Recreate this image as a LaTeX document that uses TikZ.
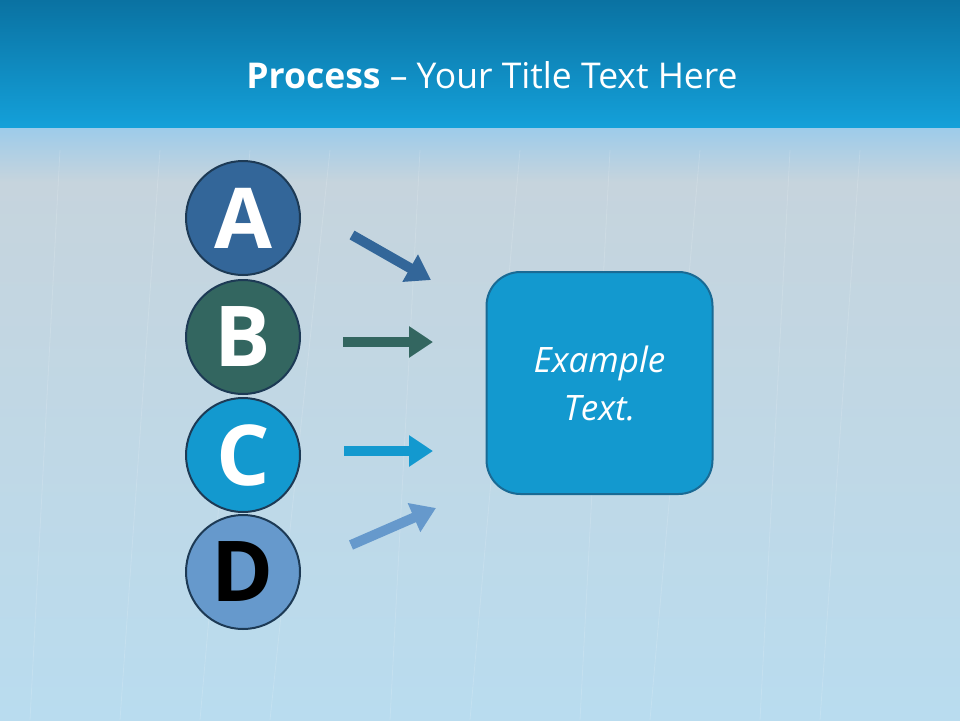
\documentclass[tikz,border=0pt]{standalone}
\usepackage{fontspec}
\setmainfont{Open Sans}
\usetikzlibrary{arrows.meta}
\definecolor{cA}{HTML}{336699}
\definecolor{cB}{HTML}{336660}
\definecolor{cC}{HTML}{1399CF}
\definecolor{cD}{HTML}{6699CC}
\definecolor{ring}{HTML}{1D3A55}
\definecolor{boxline}{HTML}{1A6A94}
\definecolor{topA}{HTML}{0A72A2}
\definecolor{topB}{HTML}{14A0D9}
\definecolor{bgA}{HTML}{9CCBEA}
\definecolor{bgB}{HTML}{C6D4DD}
\definecolor{bgC}{HTML}{C2D8E4}
\definecolor{bgD}{HTML}{B9DCEF}
\tikzset{
  letter/.style={circle, draw=ring, line width=2pt, minimum size=114pt, inner sep=0pt,
    font=\fontsize{84}{84}\selectfont\bfseries},
  arr/.style={line width=10pt, -{Triangle[length=24pt,width=30pt]}},
  ebox/.style={draw=boxline, line width=2pt, fill=cC, rounded corners=34pt,
    minimum width=226pt, minimum height=222pt, align=center, text=white,
    font=\fontsize{35}{48}\selectfont\itshape},
  streak/.style={white, opacity=0.15, line width=0.8pt}
}
\begin{document}
\begin{tikzpicture}[x=1pt,y=-1pt]
\useasboundingbox (0,0) rectangle (960,720);
% background
\shade[top color=bgB, bottom color=bgD] (0,180) rectangle (960,720);
\shade[top color=bgA, bottom color=bgB] (0,126) rectangle (960,182);
\shade[top color=topA, bottom color=topB] (0,0) rectangle (960,127);
% faint streaks
\foreach \xa/\xb in {250/200, 330/270, 420/390, 520/470, 610/580, 700/650, 790/760, 860/820, 160/120, 60/30}{
  \draw[streak] (\xa,150) -- (\xb,720);
}
% title
\node[text=white, font=\fontsize{35.5}{40}\selectfont] (title) at (492,75)
  {\textbf{Process} -- Your Title Text Here};
% circles
\node[letter, fill=cA, text=white] (A) at (243,218) {A};
\node[letter, fill=cB, text=white] (B) at (243,337) {B};
\node[letter, fill=cC, text=white] (C) at (243,455) {C};
\node[letter, fill=cD, text=black] (D) at (243,572) {D};
% box
\node[ebox] (box) at (599.5,383) {Example\\Text.};
% arrows
\coordinate (a1) at (352,235); \coordinate (a2) at (431,280);
\coordinate (b1) at (343,342); \coordinate (b2) at (433,342);
\coordinate (c1) at (344,451); \coordinate (c2) at (433,451);
\coordinate (d1) at (351,545); \coordinate (d2) at (436,508);
\draw[arr, cA] (a1) -- (a2);
\draw[arr, cB] (b1) -- (b2);
\draw[arr, cC] (c1) -- (c2);
\draw[arr, cD] (d1) -- (d2);
\end{tikzpicture}
\end{document}
